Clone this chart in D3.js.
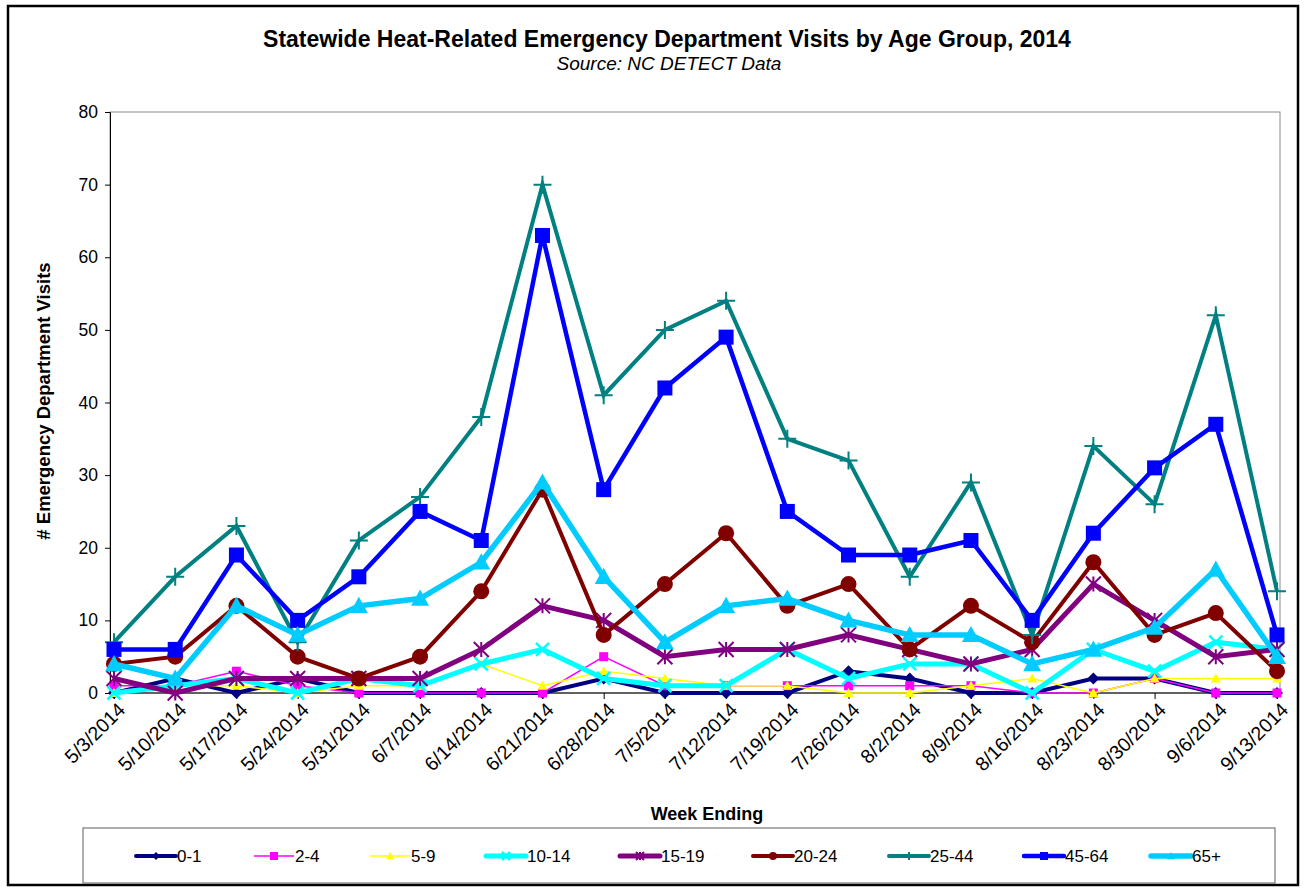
<!DOCTYPE html>
<html><head><meta charset="utf-8">
<script src="https://cdn.jsdelivr.net/npm/d3@7"></script>
<style>
body{margin:0;background:#fff;}
text{font-family:"Liberation Sans",Arial,sans-serif;}
</style></head>
<body><svg id="chart" width="1305" height="888"></svg>
<script>
const weeks = ["5/3/2014","5/10/2014","5/17/2014","5/24/2014","5/31/2014","6/7/2014","6/14/2014","6/21/2014","6/28/2014","7/5/2014","7/12/2014","7/19/2014","7/26/2014","8/2/2014","8/9/2014","8/16/2014","8/23/2014","8/30/2014","9/6/2014","9/13/2014"];
const age0_1   = [0,2,0,2,0,0,0,0,2,0,0,0,3,2,0,0,2,2,0,0];
const age2_4   = [1,1,3,1,0,0,0,0,5,1,1,1,1,1,1,0,0,2,0,0];
const age5_9   = [0,1,1,0,1,1,4,1,3,2,1,1,0,0,1,2,0,2,2,2];
const age10_14 = [0,1,2,0,2,1,4,6,2,1,1,6,2,4,4,0,6,3,7,6];
const age15_19 = [2,0,2,2,2,2,6,12,10,5,6,6,8,6,4,6,15,10,5,6];
const age20_24 = [4,5,12,5,2,5,14,28,8,15,22,12,15,6,12,7,18,8,11,3];
const age25_44 = [7,16,23,7,21,27,38,70,41,50,54,35,32,16,29,8,34,26,52,14];
const age45_64 = [6,6,19,10,16,25,21,63,28,42,49,25,19,19,21,10,22,31,37,8];
const age65p   = [4,2,12,8,12,13,18,29,16,7,12,13,10,8,8,4,6,9,17,5];
const seriesNames = ["0-1","2-4","5-9","10-14","15-19","20-24","25-44","45-64","65+"];
const yTicks = [0,10,20,30,40,50,60,70,80];

const seriesData = [age0_1,age2_4,age5_9,age10_14,age15_19,age20_24,age25_44,age45_64,age65p];
const styles = [
  {color:"#000080", w:4,   marker:"diamond", size:12},
  {color:"#FF00FF", w:1.5, marker:"square",  size:9},
  {color:"#FFFF00", w:1.5, marker:"triangle",size:10},
  {color:"#00FFFF", w:5,   marker:"x",       size:13},
  {color:"#800080", w:5,   marker:"star",    size:15},
  {color:"#800000", w:4,   marker:"circle",  size:16},
  {color:"#008080", w:4,   marker:"plus",    size:18},
  {color:"#0000FF", w:4.5, marker:"square",  size:15},
  {color:"#00CCFF", w:5.5, marker:"triangle",size:18}
];

const svg = d3.select("#chart");
svg.append("rect").attr("x",8).attr("y",6).attr("width",1290).attr("height",879)
  .attr("fill","#fff").attr("stroke","#000").attr("stroke-width",2.5);

const x = d3.scalePoint().domain(weeks).range([114,1277]);
const y = d3.scaleLinear().domain([0,80]).range([693,112]);

svg.append("rect").attr("x",110).attr("y",112).attr("width",1170).attr("height",581)
  .attr("fill","none").attr("stroke","#888").attr("stroke-width",1);

const yAxis = svg.append("g").attr("transform","translate(110,0)")
  .call(d3.axisLeft(y).tickValues(yTicks).tickSize(5).tickPadding(7).tickFormat(d3.format("d")));
yAxis.select(".domain").attr("stroke","#000");
yAxis.selectAll(".tick line").attr("stroke","#000");
yAxis.selectAll("text").attr("font-size",17.5).attr("fill","#000");

const xAxis = svg.append("g").attr("transform","translate(0,693)")
  .call(d3.axisBottom(x).tickSize(6).tickSizeOuter(0));
xAxis.select(".domain").attr("stroke","#000").attr("d","M110,0H1280");
xAxis.selectAll(".tick line").attr("stroke","#000");
xAxis.selectAll("text").attr("font-size",19.5).attr("fill","#000")
  .attr("text-anchor","end").attr("dy",0).attr("dx",0).attr("y",0)
  .attr("transform","translate(12,18) rotate(-45)");

svg.append("text").attr("x",667).attr("y",47).attr("text-anchor","middle")
  .attr("font-size",23).attr("font-weight","bold").text("Statewide Heat-Related Emergency Department Visits by Age Group, 2014");
svg.append("text").attr("x",669).attr("y",70).attr("text-anchor","middle")
  .attr("font-size",19).attr("font-style","italic").text("Source: NC DETECT Data");
svg.append("text").attr("transform","translate(50,401) rotate(-90)").attr("text-anchor","middle")
  .attr("font-size",18.5).attr("font-weight","bold").text("# Emergency Department Visits");
svg.append("text").attr("x",707).attr("y",820).attr("text-anchor","middle")
  .attr("font-size",18).attr("font-weight","bold").text("Week Ending");

function drawMarker(g, type, cx, cy, s, color){
  const h = s/2;
  if(type==="diamond"){
    g.append("path").attr("d",`M${cx},${cy-h}L${cx+h},${cy}L${cx},${cy+h}L${cx-h},${cy}Z`).attr("fill",color);
  } else if(type==="square"){
    g.append("rect").attr("x",cx-h).attr("y",cy-h).attr("width",s).attr("height",s).attr("fill",color);
  } else if(type==="triangle"){
    g.append("path").attr("d",`M${cx},${cy-h}L${cx+h},${cy+h*0.8}L${cx-h},${cy+h*0.8}Z`).attr("fill",color);
  } else if(type==="circle"){
    g.append("circle").attr("cx",cx).attr("cy",cy).attr("r",h).attr("fill",color);
  } else if(type==="x"){
    g.append("path").attr("d",`M${cx-h},${cy-h}L${cx+h},${cy+h}M${cx-h},${cy+h}L${cx+h},${cy-h}`)
      .attr("stroke",color).attr("stroke-width",2.5);
  } else if(type==="star"){
    g.append("path").attr("d",`M${cx-h},${cy-h}L${cx+h},${cy+h}M${cx-h},${cy+h}L${cx+h},${cy-h}M${cx},${cy-h}L${cx},${cy+h}`)
      .attr("stroke",color).attr("stroke-width",2);
  } else if(type==="plus"){
    g.append("path").attr("d",`M${cx-h},${cy}L${cx+h},${cy}M${cx},${cy-h}L${cx},${cy+h}`)
      .attr("stroke",color).attr("stroke-width",2);
  }
}

const line = d3.line().x((d,i)=>x(weeks[i])).y(d=>y(d));
seriesData.forEach((vals,si)=>{
  const st = styles[si];
  const g = svg.append("g");
  g.append("path").datum(vals).attr("d",line).attr("fill","none")
    .attr("stroke",st.color).attr("stroke-width",st.w).attr("stroke-linejoin","miter");
  vals.forEach((v,i)=>drawMarker(g, st.marker, x(weeks[i]), y(v), st.size, st.color));
});

svg.append("rect").attr("x",83).attr("y",828).attr("width",1192).attr("height",55)
  .attr("fill","#fff").attr("stroke","#777").attr("stroke-width",1.2);
const legX = [136,254,370,486,620,753,889,1024,1151];
seriesNames.forEach((nm,si)=>{
  const st = styles[si];
  const g = svg.append("g");
  const x0 = legX[si], ly = 856;
  g.append("line").attr("x1",x0).attr("x2",x0+40).attr("y1",ly).attr("y2",ly)
    .attr("stroke",st.color).attr("stroke-width",Math.max(st.w,1.5)).attr("stroke-linecap",st.w>2?"round":"butt");
  drawMarker(g, st.marker, x0+20, ly, Math.min(st.size,8), st.color);
  g.append("text").attr("x",x0+41).attr("y",ly+6).attr("font-size",17).text(nm);
});
</script></body></html>
